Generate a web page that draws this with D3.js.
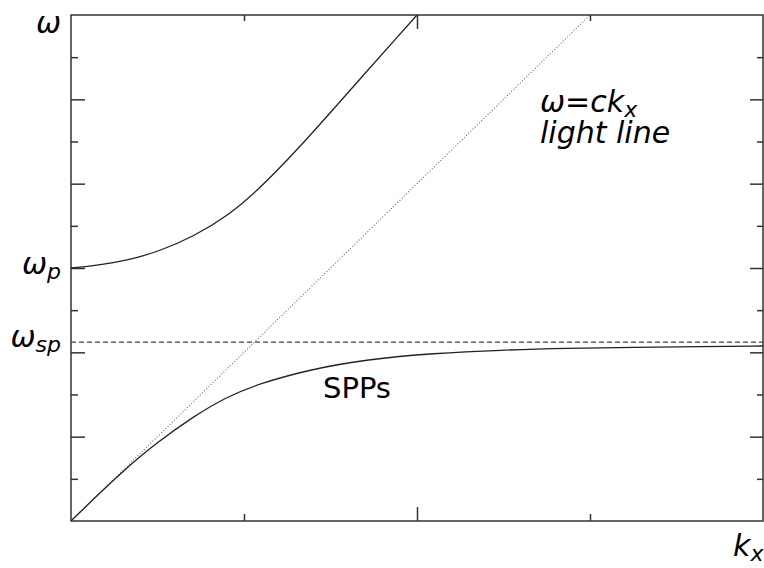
<!DOCTYPE html>
<html>
<head>
<meta charset="utf-8">
<script src="https://cdn.jsdelivr.net/npm/d3@7"></script>
<style>
  body { margin: 0; background: #fff; }
  text { font-family: "DejaVu Sans", Verdana, sans-serif; fill: #000; }
</style>
</head>
<body>
<svg class="dispersion" width="764" height="568"></svg>
<script>
  // values (x in k units, y in omega units)
  const upperBranch = [
    [0, 6.0], [0.127, 6.047], [0.324, 6.173], [0.514, 6.403], [0.705, 6.742],
    [0.902, 7.221], [1.092, 7.885], [1.306, 8.798], [1.497, 9.675],
    [1.688, 10.564], [1.884, 11.466], [2.0, 12.0]
  ];
  const sppBranch = [
    [0, 0], [0.15, 0.6], [0.284, 1.12], [0.476, 1.80], [0.708, 2.48],
    [0.901, 2.948], [1.094, 3.265], [1.384, 3.597], [1.712, 3.834],
    [2.097, 3.977], [2.483, 4.055], [2.869, 4.095], [3.255, 4.119],
    [3.641, 4.133], [4.0, 4.150]
  ];
  const lightLine = [[0, 0], [3, 12]];
  const omegaSp = 4.243;
  const omegaP = 6;

  const xMajorTicks = [2];
  const xMinorTicks = [1, 3];
  const yMajorTicks = [2, 4, 6, 8, 10];
  const yMinorTicks = [1, 3, 5, 7, 9, 11];

  const svg = d3.select('.dispersion');
  const margin = { top: 15, right: 1, bottom: 47, left: 71 };
  const width = +svg.attr('width');
  const height = +svg.attr('height');
  const innerWidth = width - margin.left - margin.right;
  const innerHeight = height - margin.top - margin.bottom;

  const xScale = d3.scaleLinear().domain([0, 4]).range([0, innerWidth]);
  const yScale = d3.scaleLinear().domain([0, 12]).range([innerHeight, 0]);

  const g = svg.append('g')
    .attr('transform', `translate(${margin.left},${margin.top})`);

  g.append('clipPath').attr('id', 'plotclip')
    .append('rect')
    .attr('width', innerWidth).attr('height', innerHeight);

  // ticks on all four sides, pointing inward
  const addAxis = (axis, values, size, transform) => {
    const a = g.append('g')
      .attr('transform', transform)
      .call(axis.tickValues(values).tickSize(size).tickFormat(''));
    a.select('.domain').remove();
    a.selectAll('line').attr('stroke', '#333').attr('stroke-width', 1.5);
  };
  addAxis(d3.axisBottom(xScale), xMajorTicks, -14, `translate(0,${innerHeight})`);
  addAxis(d3.axisBottom(xScale), xMinorTicks, -7, `translate(0,${innerHeight})`);
  addAxis(d3.axisTop(xScale), xMajorTicks, -14, 'translate(0,0)');
  addAxis(d3.axisTop(xScale), xMinorTicks, -6, 'translate(0,0)');
  addAxis(d3.axisLeft(yScale), yMajorTicks, -14, 'translate(0,0)');
  addAxis(d3.axisLeft(yScale), yMinorTicks, -7, 'translate(0,0)');
  addAxis(d3.axisRight(yScale), yMajorTicks, -13, `translate(${innerWidth},0)`);
  addAxis(d3.axisRight(yScale), yMinorTicks, -6, `translate(${innerWidth},0)`);

  g.append('rect')
    .attr('width', innerWidth).attr('height', innerHeight)
    .attr('fill', 'none').attr('stroke', '#333').attr('stroke-width', 1.5);

  const line = d3.line()
    .x(d => xScale(d[0]))
    .y(d => yScale(d[1]))
    .curve(d3.curveBasis);

  const plot = g.append('g').attr('clip-path', 'url(#plotclip)');

  // omega_sp asymptote
  plot.append('line')
    .attr('x1', xScale(0)).attr('x2', xScale(4))
    .attr('y1', yScale(omegaSp)).attr('y2', yScale(omegaSp))
    .attr('stroke', '#444').attr('stroke-width', 1.2)
    .attr('stroke-dasharray', '5,3');

  plot.append('path').datum(lightLine)
    .attr('d', d3.line().x(d => xScale(d[0])).y(d => yScale(d[1])))
    .attr('fill', 'none').attr('stroke', '#666').attr('stroke-width', 1.1)
    .attr('stroke-dasharray', '1,2');

  [upperBranch, sppBranch].forEach(branch => {
    plot.append('path').datum(branch)
      .attr('d', line)
      .attr('fill', 'none').attr('stroke', '#222').attr('stroke-width', 1.3);
  });

  // labels
  const fs = 30;
  const subLabel = (x, y, main, sub, anchor) => {
    const t = svg.append('text')
      .attr('x', x).attr('y', y)
      .attr('text-anchor', anchor)
      .attr('font-size', fs)
      .attr('font-style', 'italic');
    t.append('tspan').text(main);
    if (sub) t.append('tspan').attr('font-size', 22).attr('dy', 5).text(sub);
    return t;
  };

  subLabel(61, margin.top + 18, 'ω', null, 'end');
  subLabel(61, margin.top + yScale(omegaP) + 6, 'ω', 'p', 'end');
  subLabel(61, margin.top + yScale(omegaSp) + 5, 'ω', 'sp', 'end');
  subLabel(733, 556, 'k', 'x', 'start');
  subLabel(540, 112, 'ω=ck', 'x', 'start');
  svg.append('text')
    .attr('x', 540).attr('y', 143)
    .attr('font-size', fs).attr('font-style', 'italic')
    .text('light line');
  svg.append('text')
    .attr('x', 323).attr('y', 398)
    .attr('font-size', 29)
    .text('SPPs');
</script>
</body>
</html>
